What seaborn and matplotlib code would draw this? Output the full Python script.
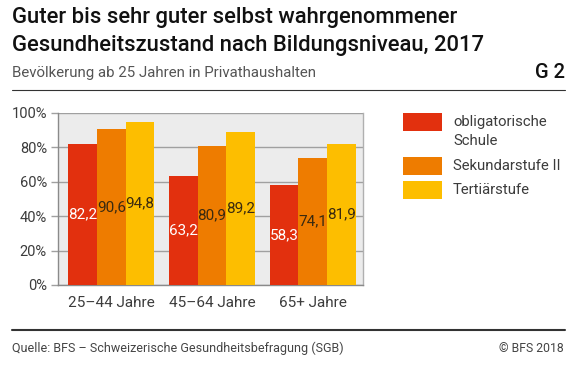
import matplotlib
matplotlib.use("Agg")
import matplotlib.pyplot as plt
import seaborn as sns
import pandas as pd
from matplotlib.lines import Line2D
from matplotlib.patches import Rectangle

sns.set_theme(style="white")
plt.rcParams['font.family'] = ['Roboto', 'DejaVu Sans']

groups = ["25–44 Jahre", "45–64 Jahre", "65+ Jahre"]
levels = ["obligatorische\nSchule", "Sekundarstufe II", "Tertiärstufe"]
obligatorisch = [82.2, 63.2, 58.3]
sekundar = [90.6, 80.9, 74.1]
tertiaer = [94.8, 89.2, 81.9]
yticks = [0, 20, 40, 60, 80, 100]
colors = ["#E2300E", "#EE7C00", "#FDBE00"]
label_colors = ["#ffffff", "#3a2a10", "#3a2a10"]

df = pd.DataFrame({
    "Alter": groups * 3,
    "Bildung": [levels[0]] * 3 + [levels[1]] * 3 + [levels[2]] * 3,
    "Wert": obligatorisch + sekundar + tertiaer,
})

W, H = 582, 372
fig = plt.figure(figsize=(W / 100, H / 100), dpi=100)
ax = fig.add_axes([58 / W, 1 - 285 / H, 305 / W, 172 / H])
ax.set_facecolor("#ECECEC")

sns.barplot(data=df, x="Alter", y="Wert", hue="Bildung", hue_order=levels,
            palette=colors, width=0.855, gap=0, saturation=1, ax=ax,
            edgecolor="none", linewidth=0, zorder=3, legend=False)

for cont, lc in zip(ax.containers, label_colors):
    ax.bar_label(cont, labels=[f"{v:.1f}".replace(".", ",") for v in cont.datavalues],
                 label_type="center", color=lc, fontsize=11, zorder=4)

ax.set_ylim(0, 100)
ax.set_xlim(-0.53, 2.5)
ax.set_yticks(yticks)
ax.set_yticklabels([f"{t}%" for t in yticks])
ax.yaxis.grid(True, color="#A0A0A0", linewidth=1.0, zorder=1)
ax.set_axisbelow(True)
ax.tick_params(axis="y", length=5, color="#A0A0A0", width=1.0, pad=3,
               labelsize=10.5, labelcolor="#3c3c3c", left=True)
ax.tick_params(axis="x", length=0, pad=8, labelsize=11, labelcolor="#3c3c3c")
ax.set_xlabel("")
ax.set_ylabel("")
ax.spines["top"].set_visible(False)
ax.spines["right"].set_color("#B0B0B0")
ax.spines["right"].set_linewidth(1.0)
ax.spines["left"].set_color("#8a8a8a")
ax.spines["left"].set_linewidth(1.0)
ax.spines["bottom"].set_color("#8a8a8a")
ax.spines["bottom"].set_linewidth(1.0)

# legend (drawn in figure pixels)
leg_tops = [113, 157, 181]
for lab, col, top in zip(levels, colors, leg_tops):
    fig.add_artist(Rectangle((403 / W, 1 - (top + 18) / H), 39 / W, 18 / H,
                             transform=fig.transFigure, facecolor=col,
                             edgecolor="none"))
    fig.text(453 / W, 1 - (top + 2) / H, lab, fontsize=10.7, color="#3c3c3c",
             va="top", ha="left", linespacing=1.45)

fig.text(12 / W, 1 - 23 / H, "Guter bis sehr guter selbst wahrgenommener",
         fontsize=15.8, fontweight="medium", color="#111111", va="baseline")
fig.text(12 / W, 1 - 51 / H, "Gesundheitszustand nach Bildungsniveau, 2017",
         fontsize=15.8, fontweight="medium", color="#111111", va="baseline")
fig.text(12 / W, 1 - 77 / H, "Bevölkerung ab 25 Jahren in Privathaushalten",
         fontsize=10.8, color="#555555", va="baseline")
fig.text(565 / W, 1 - 78 / H, "G 2", fontsize=14.5, fontweight="medium",
         color="#111111", va="baseline", ha="right")
fig.add_artist(Line2D([12 / W, 565 / W], [1 - 90 / H, 1 - 90 / H],
                      color="#333333", linewidth=0.8))
fig.add_artist(Line2D([12 / W, 565 / W], [1 - 330 / H, 1 - 330 / H],
                      color="#333333", linewidth=1.5))
fig.text(12 / W, 1 - 352 / H, "Quelle: BFS – Schweizerische Gesundheitsbefragung (SGB)",
         fontsize=9, color="#444444", va="baseline")
fig.text(564 / W, 1 - 352 / H, "© BFS 2018",
         fontsize=8.8, color="#444444", va="baseline", ha="right")

fig.savefig("out.png", dpi=100, facecolor="white")
